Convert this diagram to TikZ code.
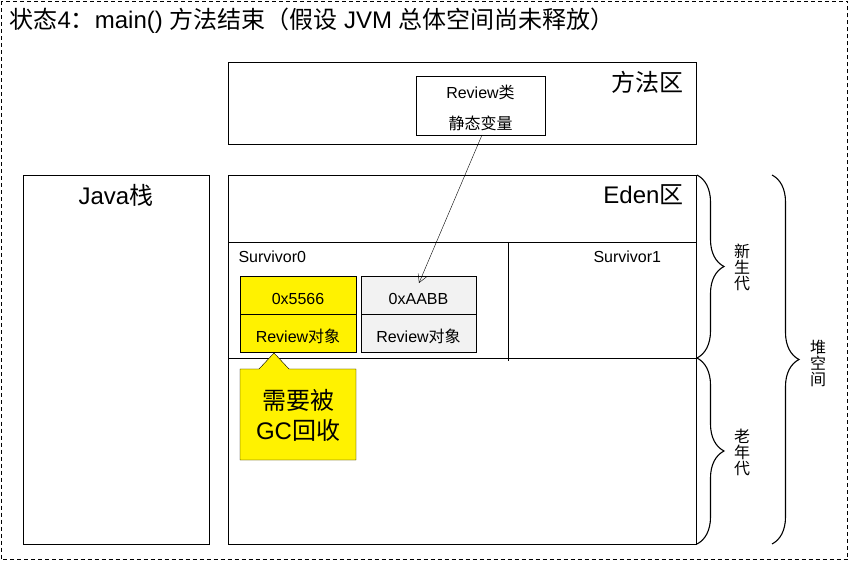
\documentclass[tikz,border=0pt]{standalone}
\usepackage{fontspec}
\setmainfont{Liberation Sans}
\newfontfamily\cjk{Noto Sans CJK SC}
\usetikzlibrary{arrows.meta,decorations.pathreplacing}

\newcommand{\zh}[1]{{\cjk #1}}

\tikzset{
  area/.style={draw, rectangle, inner sep=0pt, outer sep=0pt},
  cell/.style={draw, rectangle, inner sep=0pt, outer sep=0pt, minimum width=115.5pt, minimum height=38pt,
    text height=19pt, text depth=0pt, font=\fontsize{16}{18}\selectfont},
  bigtext/.style={font=\fontsize{24}{28}\selectfont},
  smalltext/.style={font=\fontsize{16}{18}\selectfont},
  genbrace/.style={decorate, decoration={brace, amplitude=27pt}, line width=1.1pt},
  vlabel/.style={align=center, font=\fontsize{16}{16}\selectfont}
}

\begin{document}
\begin{tikzpicture}[x=1pt, y=-1pt, >={Straight Barb[length=8pt, width=9pt]}]
\useasboundingbox (0,0) rectangle (849,561);
\draw[dash pattern=on 4pt off 3pt] (1.5,1.5) rectangle (847.5,559.5);

% title
\node[anchor=west, font=\fontsize{24}{26}\selectfont] (title) at (6,21)
  {\zh{状态}4\zh{：}main() \zh{方法结束（假设} JVM \zh{总体空间尚未释放）}};

% method area
\node[area, minimum width=468pt, minimum height=82pt] (methodarea) at (462,103) {};
\node[bigtext, anchor=east] (methodlabel) at (687,82) {\zh{方法区}};
\node[area, minimum width=129pt, minimum height=59pt] (classbox) at (480.5,105.5) {};
\node[align=center, font=\fontsize{16}{31}\selectfont] (classtext) at (480.5,108)
  {Review\zh{类}\\\zh{静态变量}};

% java stack
\node[area, minimum width=186pt, minimum height=369pt] (javastack) at (116,359.5) {};
\node[bigtext] (stacklabel) at (116,195) {Java\zh{栈}};

% heap
\node[area, minimum width=468pt, minimum height=369pt] (heap) at (462,359.5) {};
\node[bigtext, anchor=east] (edenlabel) at (687,195) {Eden\zh{区}};
\draw (228,242) -- (696,242);
\draw (228,358) -- (696,358);
\draw (508,242) -- (508,361);
\node[smalltext, anchor=west] (s0label) at (235,257) {Survivor0};
\node[smalltext, anchor=west] (s1label) at (590,257) {Survivor1};

% objects
\node[cell, fill=yellow] (addrA) at (298,295) {0x5566};
\node[cell, fill=yellow] (objA) at (298,333) {Review\zh{对象}};
\node[cell, fill=black!5] (addrB) at (418.5,295) {0xAABB};
\node[cell, fill=black!5] (objB) at (418.5,333) {Review\zh{对象}};

% reference
\coordinate (refend) at (419,283);
\draw[->] (classbox.south -| 482,0) -- (refend);

% note
\draw[fill=yellow] (240,369) -- (259,369) -- (274,353) -- (289,369) -- (356,369)
  -- (356,460) -- (240,460) -- cycle;
\node[bigtext, align=center, font=\fontsize{24}{30}\selectfont] (gcnote) at (298,415)
  {\zh{需要被}\\GC\zh{回收}};

% braces
\draw[genbrace] (697,175) -- (697,358);
\draw[genbrace] (697,358) -- (697,544);
\draw[genbrace] (772,175) -- (772,544);
\node[vlabel] (younglabel) at (742,267) {\zh{新}\\\zh{生}\\\zh{代}};
\node[vlabel] (oldlabel) at (742,452) {\zh{老}\\\zh{年}\\\zh{代}};
\node[vlabel] (heaplabel) at (818,363) {\zh{堆}\\\zh{空}\\\zh{间}};
\end{tikzpicture}
\end{document}
